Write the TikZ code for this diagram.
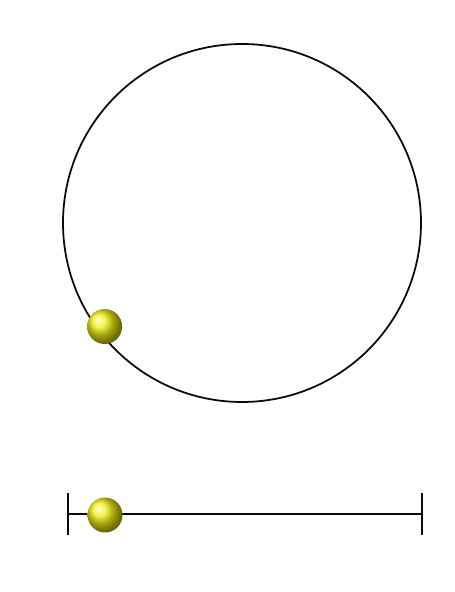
\documentclass[tikz,border=0pt]{standalone}
\usepackage{xcolor}
\usepackage{tikz}
\usetikzlibrary{positioning, calc}
\definecolor{bead}{RGB}{240,240,20}
\definecolor{track}{RGB}{10,10,10}

\begin{document}
\begin{tikzpicture}[
    x=0.02cm, y=0.02cm,
    bead/.style={circle, inner sep=0pt, minimum size=0.70cm,
        shading=ball, ball color=bead},
]
% Canvas: x in [0, 454], y in [0, 592]
\useasboundingbox[fill=white] (0,0) rectangle (454,592);

% --- Circle with its bead ---
\coordinate (hub) at (242,369);
\draw[track, line width=1.0pt] (hub) circle (179);
\node[bead] (roundbead) at ($(hub)+(217:172)$) {};

% --- Straight track with end stops ---
\coordinate (lstop) at (68,78);
\coordinate (rstop) at (422,78);
\draw[track, line width=1.7pt] (lstop) -- (rstop);
\draw[track, line width=1.7pt] ($(lstop)+(0,-21)$) -- ($(lstop)+(0,21)$);
\draw[track, line width=1.7pt] ($(rstop)+(0,-21)$) -- ($(rstop)+(0,21)$);
\node[bead] (linebead) at (105,77) {};

\end{tikzpicture}
\end{document}
